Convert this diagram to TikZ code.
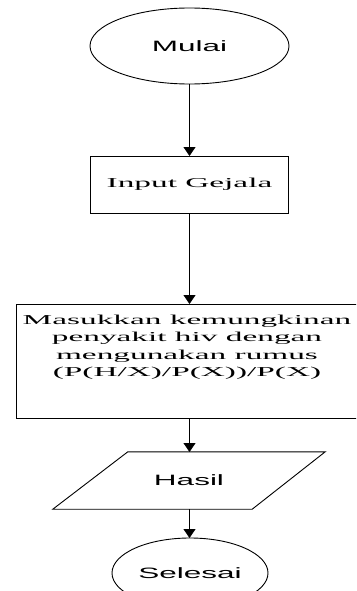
\documentclass[tikz,border=0pt]{standalone}
\usepackage{fontspec}
\usetikzlibrary{shapes.geometric,arrows.meta}
\newfontfamily\widesans[FakeStretch=2.1]{Liberation Sans}
\newfontfamily\wideserif[FakeStretch=2.45]{Liberation Serif}
\begin{document}
\begin{tikzpicture}[x=1pt,y=-1pt,
  line/.style={draw=black,line width=0.9pt},
  sanstext/.style={font=\widesans\fontsize{15}{18}\selectfont},
  seriftext/.style={font=\wideserif\fontsize{13.6}{17.5}\selectfont,align=center},
  terminal/.style={line,ellipse,inner sep=0pt,sanstext},
  procbox/.style={line,rectangle,inner sep=0pt},
  arr/.style={line,-{Triangle[width=12pt,length=9pt]}}]
\useasboundingbox (0,0) rectangle (356,591);
\clip (0,0) rectangle (356,591);
\node[terminal,minimum width=199pt,minimum height=76pt] (mulai) at (189.5,46) {Mulai};
\node[procbox,minimum width=198pt,minimum height=57pt,seriftext] (input) at (189.5,184.5) {Input Gejala};
\node[procbox,minimum width=347pt,minimum height=114pt] (proses) at (189.5,361) {};
\node[seriftext] (prosest) at (187,347) {Masukkan kemungkinan\\penyakit hiv dengan\\mengunakan rumus\\(P(H/X)/P(X))/P(X)};
\node[minimum width=272pt,minimum height=57pt,inner sep=0pt,sanstext] (hasil) at (189,480.5) {Hasil};
\draw[line] ([xshift=75pt]hasil.north west) -- (hasil.north east)
  -- ([xshift=-73pt]hasil.south east) -- (hasil.south west) -- cycle;
\node[terminal,minimum width=156pt,minimum height=70pt] (selesai) at (190,573) {Selesai};
\coordinate (inputtop) at (189.5,156);
\coordinate (prosestop) at (189.5,304);
\coordinate (hasiltop) at (189.5,452);
\coordinate (hasilbot) at (189.5,509);
\coordinate (selesaitop) at (189.5,538);
\draw[arr] (mulai.south) -- (inputtop);
\draw[arr] (input.south) -- (prosestop);
\draw[arr] (proses.south) -- (hasiltop);
\draw[arr] (hasilbot) -- (selesaitop);
\end{tikzpicture}
\end{document}
